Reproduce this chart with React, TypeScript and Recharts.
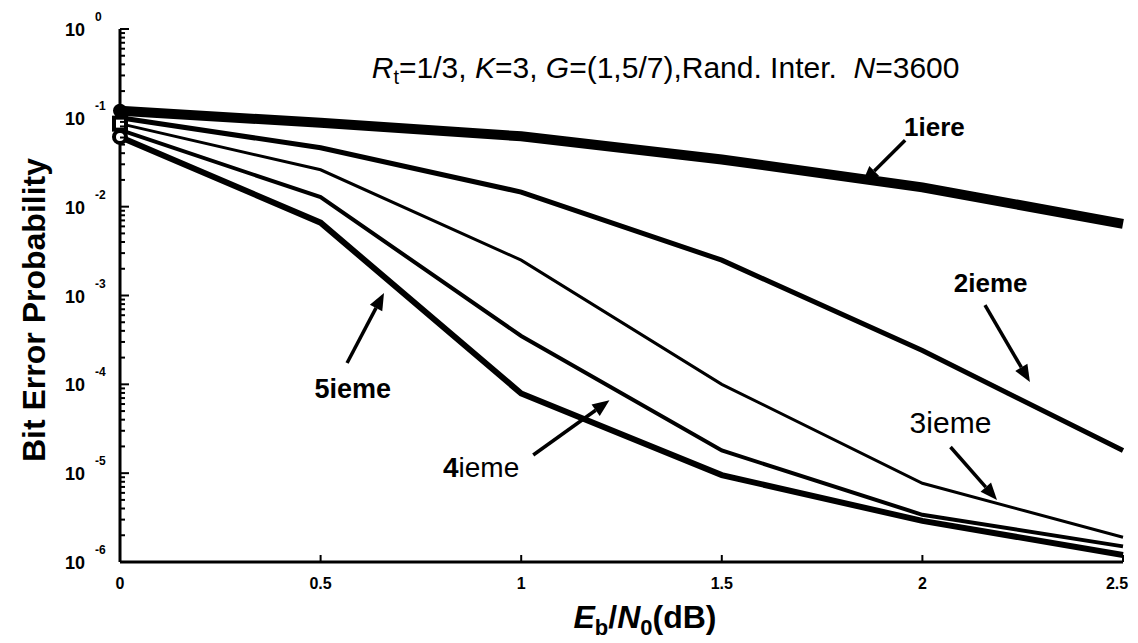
import React from 'react'
import { LineChart, Line, XAxis, YAxis, ReferenceLine, ReferenceDot } from 'recharts'

// Eb/N0 (dB) and bit error probability per decoding iteration
const ebno = [0, 0.5, 1, 1.5, 2, 2.5]
const iter1 = [0.12, 0.088, 0.062, 0.034, 0.0165, 0.0064]
const iter2 = [0.1, 0.046, 0.0146, 0.0025, 0.00024, 0.000018]
const iter3 = [0.086, 0.026, 0.0025, 0.0001, 0.0000077, 0.0000019]
const iter4 = [0.073, 0.0128, 0.00035, 0.000018, 0.0000034, 0.0000015]
const iter5 = [0.061, 0.0066, 0.000079, 0.0000095, 0.0000029, 0.0000012]

const xTicks = [0, 0.5, 1, 1.5, 2, 2.5]
const decadeExps = [-6, -5, -4, -3, -2, -1, 0]
const minorSteps = [2, 3, 4, 5, 6, 7, 8, 9]

// annotation anchors, in data coordinates
const labels = [
  { digit: '1', rest: 'iere', x: 2.03, y: 0.08, restBold: true, size: 26 },
  { digit: '2', rest: 'ieme', x: 2.17, y: 0.00138, restBold: true, size: 26 },
  { digit: '', rest: '3ieme', x: 2.07, y: 0.000037, restBold: false, size: 30 },
  { digit: '4', rest: 'ieme', x: 0.9, y: 0.0000117, restBold: false, size: 28 },
  { digit: '5', rest: 'ieme', x: 0.58, y: 0.000091, restBold: true, size: 27 },
]
const arrows = [
  { from: [1.957, 0.056], to: [1.85, 0.0185] },
  { from: [2.156, 0.00078], to: [2.268, 0.000106] },
  { from: [2.07, 0.0000197], to: [2.186, 0.000005] },
  { from: [1.03, 0.000016], to: [1.22, 0.000066] },
  { from: [0.566, 0.000174], to: [0.658, 0.00107] },
]

const data = ebno.map((x, i) => ({
  x,
  i1: iter1[i],
  i2: iter2[i],
  i3: iter3[i],
  i4: iter4[i],
  i5: iter5[i],
}))

const decadeTicks = decadeExps.map(e => Math.pow(10, e))
const yTicks: number[] = []
decadeExps.forEach(e => {
  yTicks.push(Math.pow(10, e))
  if (e < 0) minorSteps.forEach(m => yTicks.push(m * Math.pow(10, e)))
})

const FONT = '"Liberation Sans", Arial, sans-serif'

const isMajor = (v: number) => decadeTicks.some(d => Math.abs(v - d) / d < 1e-6)

const LeftTick = (props: any) => {
  const { x, y, payload } = props
  const v = payload.value
  const major = isMajor(v)
  const exp = Math.round(Math.log10(v))
  return (
    <g>
      <line x1={x} y1={y} x2={x + (major ? 9 : 5)} y2={y} stroke="#000" strokeWidth={2} />
      {major && (
        <g fontFamily={FONT} fontWeight="bold" fill="#000">
          <text x={x - 35} y={y + 7} textAnchor="end" fontSize={18}>10</text>
          <text x={x - 25} y={y - 8} textAnchor="start" fontSize={12}>{exp}</text>
        </g>
      )}
    </g>
  )
}

const RightTick = (props: any) => {
  const { x, y, payload } = props
  const major = isMajor(payload.value)
  return <line x1={x} y1={y} x2={x - (major ? 9 : 5)} y2={y} stroke="#000" strokeWidth={2} />
}

const BottomTick = (props: any) => {
  const { x, y, payload } = props
  const last = payload.value === xTicks[xTicks.length - 1]
  return (
    <g>
      <line x1={x} y1={y} x2={x} y2={y - 7} stroke="#000" strokeWidth={2} />
      <text x={last ? x - 6 : x} y={y + 27} textAnchor="middle" fontFamily={FONT} fontWeight="bold" fontSize={16} fill="#000">
        {payload.value}
      </text>
    </g>
  )
}

const TopTick = (props: any) => {
  const { x, y } = props
  return <line x1={x} y1={y} x2={x} y2={y + 7} stroke="#000" strokeWidth={2} />
}

const dotAtStart = (kind: 'filled' | 'square' | 'open') => (props: any) => {
  const { cx, cy, index } = props
  if (index !== 0) return <g key={`d${index}`} />
  if (kind === 'filled') return <circle key="d0" cx={cx} cy={cy} r={7} fill="#000" />
  if (kind === 'square') return <rect key="d0" x={cx - 6} y={cy - 6} width={12} height={12} fill="#fff" stroke="#000" strokeWidth={4} />
  return <circle key="d0" cx={cx} cy={cy} r={6} fill="#fff" stroke="#000" strokeWidth={4} />
}

const arrowShape = (props: any) => {
  const { x1, y1, x2, y2 } = props
  const ang = Math.atan2(y2 - y1, x2 - x1)
  const len = 17
  const w = 7
  const bx = x2 - len * Math.cos(ang)
  const by = y2 - len * Math.sin(ang)
  const px = -Math.sin(ang) * w
  const py = Math.cos(ang) * w
  return (
    <g>
      <line x1={x1} y1={y1} x2={bx} y2={by} stroke="#000" strokeWidth={3.5} />
      <polygon points={`${x2},${y2} ${bx + px},${by + py} ${bx - px},${by - py}`} fill="#000" />
    </g>
  )
}

const labelShape = (lab: typeof labels[number]) => (props: any) => {
  const { cx, cy } = props
  return (
    <text x={cx} y={cy + lab.size * 0.36} textAnchor="middle" fontFamily={FONT} fontSize={lab.size} fill="#000">
      {lab.digit && <tspan fontWeight="bold">{lab.digit}</tspan>}
      <tspan fontWeight={lab.restBold ? 'bold' : 'normal'}>{lab.rest}</tspan>
    </text>
  )
}

const titleShape = (props: any) => {
  const { cx, cy } = props
  return (
    <text x={cx} y={cy + 10} textAnchor="middle" fontFamily={FONT} fontSize={30} fill="#000">
      <tspan fontStyle="italic">R</tspan>
      <tspan fontSize={20} dy={6}>t</tspan>
      <tspan dy={-6}>=1/3, </tspan>
      <tspan fontStyle="italic">K</tspan>
      <tspan>=3, </tspan>
      <tspan fontStyle="italic">G</tspan>
      <tspan>{'=(1,5/7),Rand. Inter.\u00A0\u00A0'}</tspan>
      <tspan fontStyle="italic">N</tspan>
      <tspan>=3600</tspan>
    </text>
  )
}

export default function App() {
  return (
    <div style={{ position: 'relative', width: 1130, height: 635 }}>
      <LineChart width={1130} height={635} data={data} margin={{ top: 21, right: 15, left: 0, bottom: 21 }}>
        <XAxis
          dataKey="x"
          type="number"
          domain={[0, 2.5]}
          ticks={xTicks}
          tick={<BottomTick />}
          tickSize={0}
          tickMargin={0}
          height={60}
          axisLine={{ stroke: '#000', strokeWidth: 3 }}
        />
        <XAxis
          xAxisId="top"
          orientation="top"
          type="number"
          domain={[0, 2.5]}
          ticks={xTicks.slice(1, -1)}
          tick={<TopTick />}
          tickSize={0}
          tickMargin={0}
          height={0}
          axisLine={{ stroke: '#000', strokeWidth: 3 }}
        />
        <YAxis
          type="number"
          scale="log"
          domain={[1e-6, 1]}
          allowDataOverflow
          ticks={yTicks}
          interval={0}
          tick={<LeftTick />}
          tickSize={0}
          tickMargin={0}
          width={112}
          axisLine={{ stroke: '#000', strokeWidth: 3 }}
        />
        <YAxis
          yAxisId="right"
          orientation="right"
          type="number"
          scale="log"
          domain={[1e-6, 1]}
          allowDataOverflow
          ticks={yTicks}
          interval={0}
          tick={<RightTick />}
          tickSize={0}
          tickMargin={0}
          width={0}
          axisLine={{ stroke: '#000', strokeWidth: 3 }}
        />
        <Line dataKey="i1" stroke="#000" strokeWidth={10} dot={dotAtStart('filled')} isAnimationActive={false} />
        <Line dataKey="i2" stroke="#000" strokeWidth={5} dot={false} isAnimationActive={false} />
        <Line dataKey="i3" stroke="#000" strokeWidth={3} dot={dotAtStart('square')} isAnimationActive={false} />
        <Line dataKey="i4" stroke="#000" strokeWidth={4} dot={false} isAnimationActive={false} />
        <Line dataKey="i5" stroke="#000" strokeWidth={6} dot={dotAtStart('open')} isAnimationActive={false} />
        {arrows.map((a, k) => (
          <ReferenceLine
            key={`a${k}`}
            segment={[{ x: a.from[0], y: a.from[1] }, { x: a.to[0], y: a.to[1] }]}
            shape={arrowShape}
          />
        ))}
        {labels.map((l, k) => (
          <ReferenceDot key={`l${k}`} x={l.x} y={l.y} r={0} shape={labelShape(l)} />
        ))}
        <ReferenceDot x={1.36} y={0.36} r={0} shape={titleShape} />
      </LineChart>
      <div
        style={{
          position: 'absolute', left: 26, top: 302, transform: 'translate(-50%, -50%) rotate(-90deg)',
          fontFamily: FONT, fontWeight: 'bold', fontSize: 32, whiteSpace: 'nowrap',
        }}
      >
        Bit Error Probability
      </div>
      <div
        style={{
          position: 'absolute', left: 637, top: 612, transform: 'translate(-50%, -50%)',
          fontFamily: FONT, fontWeight: 'bold', fontSize: 32, whiteSpace: 'nowrap', lineHeight: 1,
        }}
      >
        <i>E</i><sub style={{ fontSize: 22 }}>b</sub>/<i>N</i><sub style={{ fontSize: 22 }}>0</sub>(dB)
      </div>
    </div>
  )
}
